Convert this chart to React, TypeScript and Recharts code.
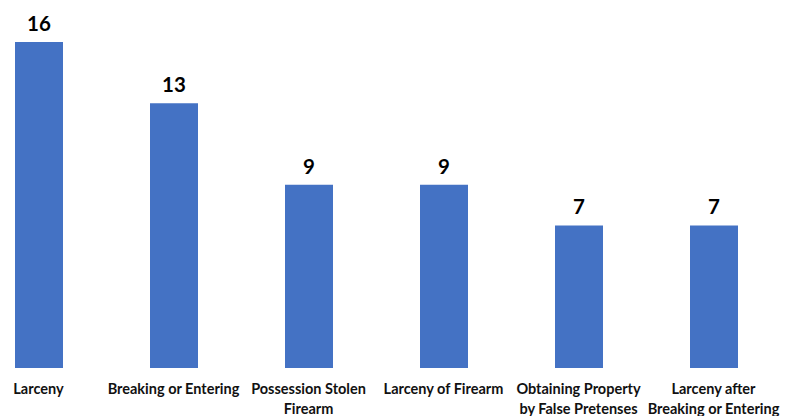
import React from "react";
import { BarChart, Bar, XAxis, YAxis, LabelList } from "recharts";

const categories = [
  "Larceny",
  "Breaking or Entering",
  "Possession Stolen Firearm",
  "Larceny of Firearm",
  "Obtaining Property by False Pretenses",
  "Larceny after Breaking or Entering",
];
const counts = [16, 13, 9, 9, 7, 7];
const tickLines: string[][] = [
  ["Larceny"],
  ["Breaking or Entering"],
  ["Possession Stolen", "Firearm"],
  ["Larceny of Firearm"],
  ["Obtaining Property", "by False Pretenses"],
  ["Larceny after", "Breaking or Entering"],
];

const data = categories.map((c, i) => ({ name: c, value: counts[i] }));

const FONT = "Lato, 'Open Sans', sans-serif";

const Tick = (props: any) => {
  const { x, y, payload } = props;
  const idx = categories.indexOf(payload.value);
  const lines = tickLines[idx] || [payload.value];
  return (
    <text
      x={x}
      y={y}
      textAnchor="middle"
      fontFamily={FONT}
      fontWeight={700}
      fontSize={14.5}
      fill="#111"
    >
      {lines.map((l, i) => (
        <tspan key={i} x={x} dy={i === 0 ? 18 : 20}>
          {l}
        </tspan>
      ))}
    </text>
  );
};

export default function App() {
  return (
    <div style={{ position: "absolute", left: -29, top: 0 }}>
      <BarChart
        width={810}
        height={416}
        data={data}
        margin={{ top: 42, right: 0, bottom: 0, left: 0 }}
      >
        <XAxis
          dataKey="name"
          axisLine={false}
          tickLine={false}
          height={48}
          interval={0}
          tick={<Tick />}
        />
        <YAxis hide domain={[0, 16]} />
        <Bar
          dataKey="value"
          fill="#4472C4"
          barSize={48}
          isAnimationActive={false}
        >
          <LabelList
            dataKey="value"
            position="top"
            offset={11}
            fontFamily={FONT}
            fontWeight={700}
            fontSize={20.5}
            fill="#000"
          />
        </Bar>
      </BarChart>
    </div>
  );
}
